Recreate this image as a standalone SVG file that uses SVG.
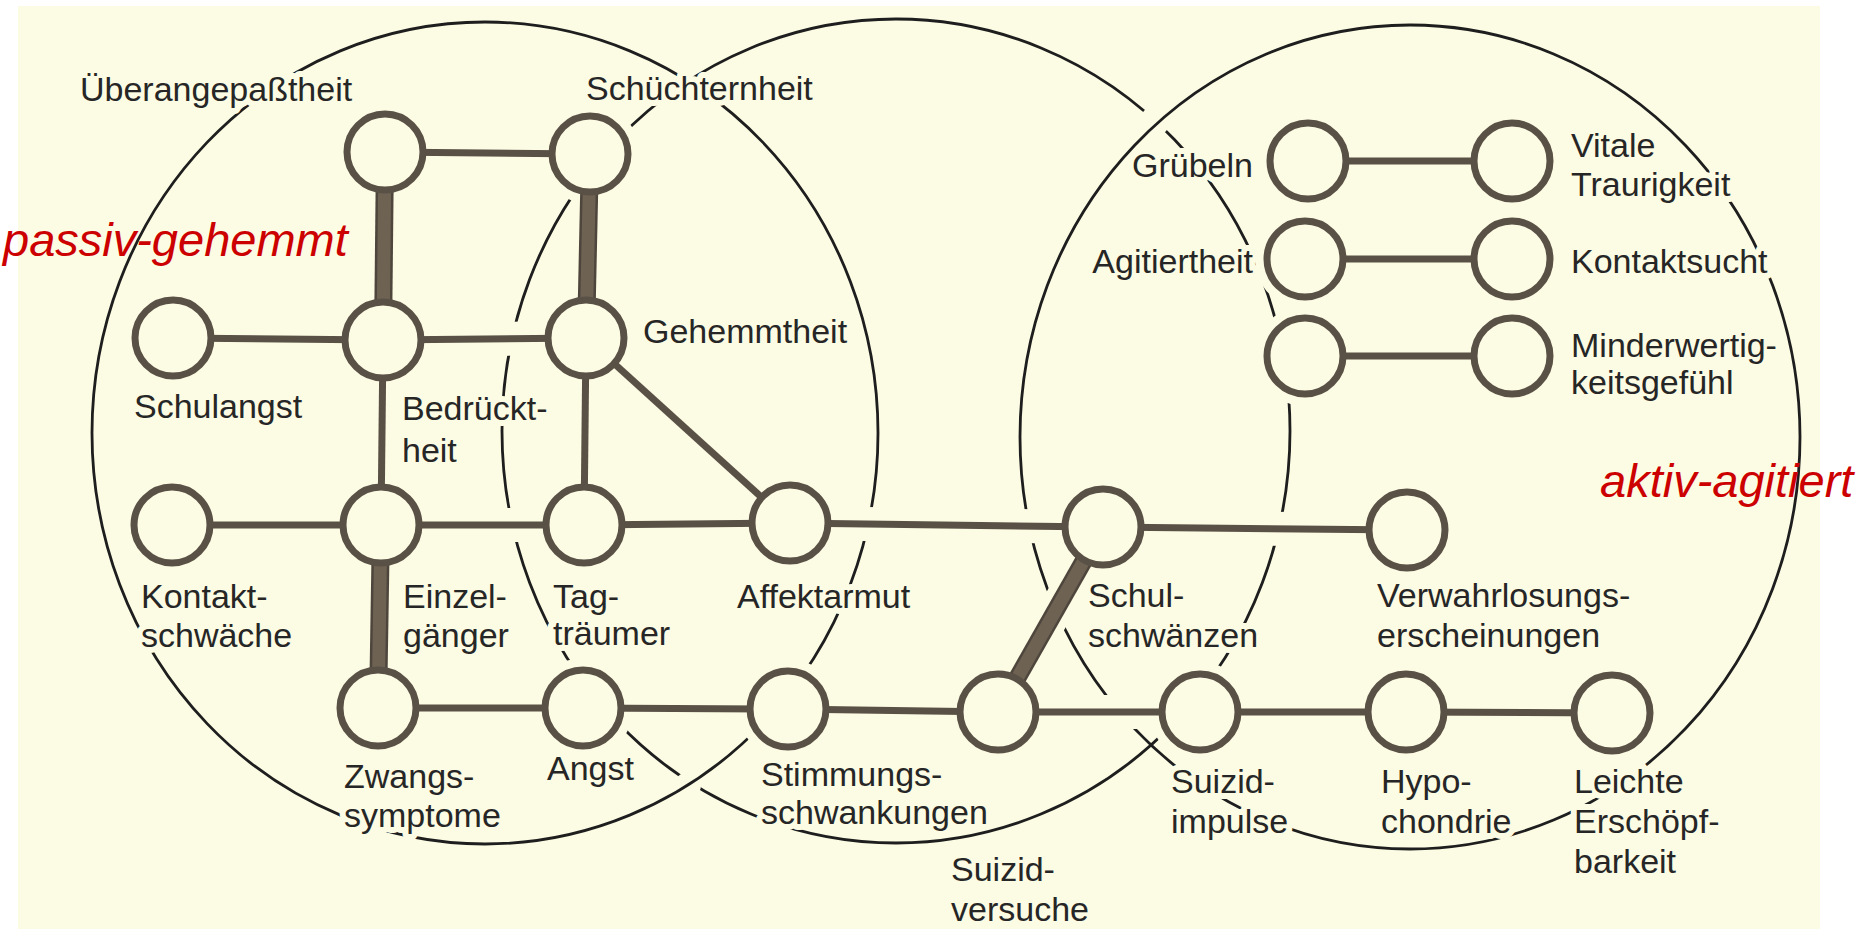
<svg xmlns="http://www.w3.org/2000/svg" width="1864" height="929" viewBox="0 0 1864 929">
<defs>
<style>
.ell{fill:none;stroke:#1e1e1e;stroke-width:2.8}
.hl{stroke:#fcfbe3;stroke-width:34;fill:none}
.hn{fill:#fcfbe3}
.thin{stroke:#5a5146;stroke-width:7;fill:none}
.thick-edge{stroke:#4e463c;stroke-width:18;fill:none}
.thick{stroke:#6e6253;stroke-width:13;fill:none}
.node circle{fill:#fcfbe3;stroke:#5a5146;stroke-width:7}
.node text{font-family:"Liberation Sans",Arial,sans-serif;font-size:34px;fill:#262626;stroke:#fcfbe3;stroke-width:12;stroke-linejoin:round;paint-order:stroke}
.red{font-family:"Liberation Sans",Arial,sans-serif;font-style:italic;font-size:47px;fill:#cc0000}
</style>
<mask id="mM" maskUnits="userSpaceOnUse" x="0" y="0" width="1864" height="929">
<rect x="0" y="0" width="1864" height="929" fill="#fff"/>
<circle cx="688" cy="785" r="13" fill="#000"/>
<circle cx="1155" cy="121" r="15" fill="#000"/>
</mask>
</defs>
<rect x="0" y="0" width="1864" height="929" fill="#ffffff"/>
<rect x="18" y="6" width="1802" height="923" fill="#fcfbe3"/>

<g id="clusters">
<ellipse class="ell" cx="485" cy="433" rx="393" ry="411"/>
<ellipse class="ell" cx="896" cy="431" rx="394" ry="412" mask="url(#mM)"/>
<ellipse class="ell" cx="1410" cy="437" rx="390" ry="412"/>
</g>

<g id="halos">
<g class="hl">
<line x1="385" y1="152" x2="590" y2="154"/>
<line x1="173" y1="338" x2="383" y2="340"/>
<line x1="383" y1="340" x2="586" y2="338"/>
<line x1="383" y1="340" x2="381" y2="525"/>
<line x1="586" y1="338" x2="584" y2="525"/>
<line x1="586" y1="338" x2="790" y2="523"/>
<line x1="172" y1="525" x2="381" y2="525"/>
<line x1="381" y1="525" x2="584" y2="525"/>
<line x1="584" y1="525" x2="790" y2="523"/>
<line x1="790" y1="523" x2="1103" y2="527"/>
<line x1="1103" y1="527" x2="1407" y2="530"/>
<line x1="378" y1="708" x2="583" y2="708"/>
<line x1="583" y1="708" x2="788" y2="709"/>
<line x1="788" y1="709" x2="998" y2="712"/>
<line x1="998" y1="712" x2="1200" y2="712"/>
<line x1="1200" y1="712" x2="1406" y2="712"/>
<line x1="1406" y1="712" x2="1612" y2="713"/>
<line x1="1308" y1="161" x2="1512" y2="161"/>
<line x1="1305" y1="259" x2="1512" y2="259"/>
<line x1="1305" y1="356" x2="1512" y2="356"/>
<line x1="385" y1="152" x2="383" y2="340"/>
<line x1="590" y1="154" x2="586" y2="338"/>
<line x1="381" y1="525" x2="378" y2="708"/>
<line x1="998" y1="712" x2="1103" y2="527"/>
</g>
<g class="hn">
<circle cx="385" cy="152" r="50"/><circle cx="590" cy="154" r="50"/>
<circle cx="173" cy="338" r="50"/><circle cx="383" cy="340" r="50"/><circle cx="586" cy="338" r="50"/>
<circle cx="172" cy="525" r="50"/><circle cx="381" cy="525" r="50"/><circle cx="584" cy="525" r="50"/><circle cx="790" cy="523" r="50"/>
<circle cx="1103" cy="527" r="50"/><circle cx="1407" cy="530" r="50"/>
<circle cx="378" cy="708" r="50"/><circle cx="583" cy="708" r="50"/><circle cx="788" cy="709" r="50"/><circle cx="998" cy="712" r="50"/>
<circle cx="1200" cy="712" r="50"/><circle cx="1406" cy="712" r="50"/><circle cx="1612" cy="713" r="50"/>
<circle cx="1308" cy="161" r="50"/><circle cx="1512" cy="161" r="50"/>
<circle cx="1305" cy="259" r="50"/><circle cx="1512" cy="259" r="50"/>
<circle cx="1305" cy="356" r="50"/><circle cx="1512" cy="356" r="50"/>
</g>
</g>

<g id="connectors">
<g class="thin">
<line x1="385" y1="152" x2="590" y2="154"/>
<line x1="173" y1="338" x2="383" y2="340"/>
<line x1="383" y1="340" x2="586" y2="338"/>
<line x1="383" y1="340" x2="381" y2="525"/>
<line x1="586" y1="338" x2="584" y2="525"/>
<line x1="586" y1="338" x2="790" y2="523"/>
<line x1="172" y1="525" x2="381" y2="525"/>
<line x1="381" y1="525" x2="584" y2="525"/>
<line x1="584" y1="525" x2="790" y2="523"/>
<line x1="790" y1="523" x2="1103" y2="527"/>
<line x1="1103" y1="527" x2="1407" y2="530"/>
<line x1="378" y1="708" x2="583" y2="708"/>
<line x1="583" y1="708" x2="788" y2="709"/>
<line x1="788" y1="709" x2="998" y2="712"/>
<line x1="998" y1="712" x2="1200" y2="712"/>
<line x1="1200" y1="712" x2="1406" y2="712"/>
<line x1="1406" y1="712" x2="1612" y2="713"/>
<line x1="1308" y1="161" x2="1512" y2="161"/>
<line x1="1305" y1="259" x2="1512" y2="259"/>
<line x1="1305" y1="356" x2="1512" y2="356"/>
</g>
<g class="thick-edge">
<line x1="385" y1="152" x2="383" y2="340"/>
<line x1="590" y1="154" x2="586" y2="338"/>
<line x1="381" y1="525" x2="378" y2="708"/>
<line x1="998" y1="712" x2="1103" y2="527"/>
</g>
<g class="thick">
<line x1="385" y1="152" x2="383" y2="340"/>
<line x1="590" y1="154" x2="586" y2="338"/>
<line x1="381" y1="525" x2="378" y2="708"/>
<line x1="998" y1="712" x2="1103" y2="527"/>
</g>
</g>

<g id="n-ueberangepasstheit" class="node"><circle cx="385" cy="152" r="38"/><text x="80" y="101">Überangepaßtheit</text></g>
<g id="n-schuechternheit" class="node"><circle cx="590" cy="154" r="38"/><text x="586" y="100">Schüchternheit</text></g>
<g id="n-schulangst" class="node"><circle cx="173" cy="338" r="38"/><text x="134" y="418">Schulangst</text></g>
<g id="n-bedruecktheit" class="node"><circle cx="383" cy="340" r="38"/><text x="402" y="420">Bedrückt-</text><text x="402" y="462">heit</text></g>
<g id="n-gehemmtheit" class="node"><circle cx="586" cy="338" r="38"/><text x="643" y="343">Gehemmtheit</text></g>
<g id="n-kontaktschwaeche" class="node"><circle cx="172" cy="525" r="38"/><text x="141" y="608">Kontakt-</text><text x="141" y="647">schwäche</text></g>
<g id="n-einzelgaenger" class="node"><circle cx="381" cy="525" r="38"/><text x="403" y="608">Einzel-</text><text x="403" y="647">gänger</text></g>
<g id="n-tagtraeumer" class="node"><circle cx="584" cy="525" r="38"/><text x="553" y="608">Tag-</text><text x="553" y="645">träumer</text></g>
<g id="n-affektarmut" class="node"><circle cx="790" cy="523" r="38"/><text x="737" y="608">Affektarmut</text></g>
<g id="n-schulschwaenzen" class="node"><circle cx="1103" cy="527" r="38"/><text x="1088" y="607">Schul-</text><text x="1088" y="647">schwänzen</text></g>
<g id="n-verwahrlosung" class="node"><circle cx="1407" cy="530" r="38"/><text x="1377" y="607">Verwahrlosungs-</text><text x="1377" y="647">erscheinungen</text></g>
<g id="n-zwangssymptome" class="node"><circle cx="378" cy="708" r="38"/><text x="344" y="788">Zwangs-</text><text x="344" y="827">symptome</text></g>
<g id="n-angst" class="node"><circle cx="583" cy="708" r="38"/><text x="547" y="780">Angst</text></g>
<g id="n-stimmungsschwankungen" class="node"><circle cx="788" cy="709" r="38"/><text x="761" y="786">Stimmungs-</text><text x="761" y="824">schwankungen</text></g>
<g id="n-suizidversuche" class="node"><circle cx="998" cy="712" r="38"/><text x="951" y="881">Suizid-</text><text x="951" y="921">versuche</text></g>
<g id="n-suizidimpulse" class="node"><circle cx="1200" cy="712" r="38"/><text x="1171" y="793">Suizid-</text><text x="1171" y="833">impulse</text></g>
<g id="n-hypochondrie" class="node"><circle cx="1406" cy="712" r="38"/><text x="1381" y="793">Hypo-</text><text x="1381" y="833">chondrie</text></g>
<g id="n-erschoepfbarkeit" class="node"><circle cx="1612" cy="713" r="38"/><text x="1574" y="793">Leichte</text><text x="1574" y="833">Erschöpf-</text><text x="1574" y="873">barkeit</text></g>
<g id="n-gruebeln" class="node"><circle cx="1308" cy="161" r="38"/><text x="1253" y="177" text-anchor="end">Grübeln</text></g>
<g id="n-vitale-traurigkeit" class="node"><circle cx="1512" cy="161" r="38"/><text x="1571" y="157">Vitale</text><text x="1571" y="196">Traurigkeit</text></g>
<g id="n-agitiertheit" class="node"><circle cx="1305" cy="259" r="38"/><text x="1253" y="273" text-anchor="end">Agitiertheit</text></g>
<g id="n-kontaktsucht" class="node"><circle cx="1512" cy="259" r="38"/><text x="1571" y="273">Kontaktsucht</text></g>
<g id="n-minderwertig-a" class="node"><circle cx="1305" cy="356" r="38"/></g>
<g id="n-minderwertigkeitsgefuehl" class="node"><circle cx="1512" cy="356" r="38"/><text x="1571" y="357">Minderwertig-</text><text x="1571" y="394">keitsgefühl</text></g>

<g id="group-labels">
<text class="red" x="3" y="256">passiv-gehemmt</text>
<text class="red" x="1600" y="497">aktiv-agitiert</text>
</g>
</svg>
